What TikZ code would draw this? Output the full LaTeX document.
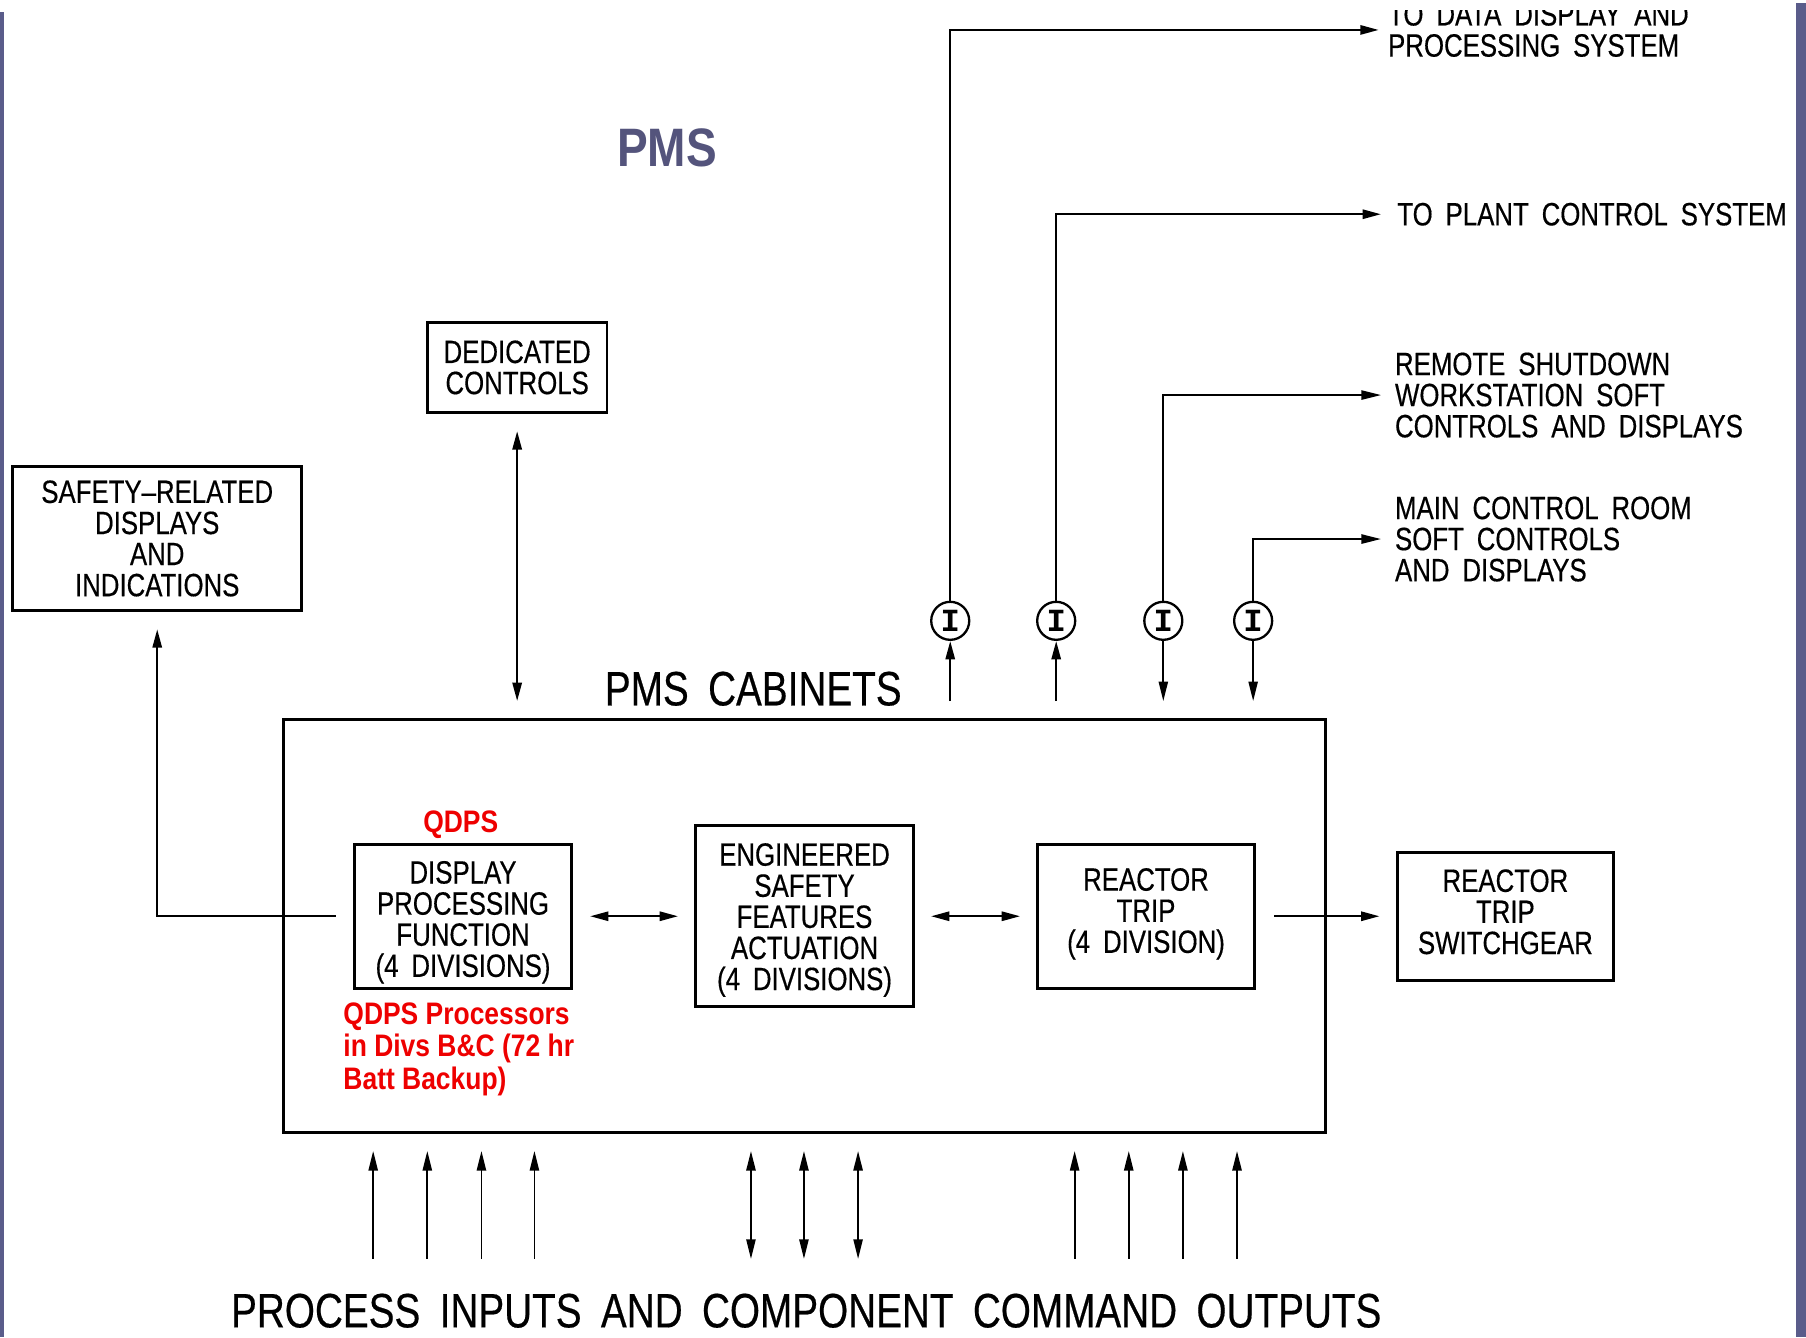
\documentclass[tikz,border=0pt]{standalone}
\usepackage{fontspec}
\setmainfont{Liberation Sans}
\newfontfamily\cadfont[FakeStretch=0.8,WordSpace=1.8,FakeBold=0.4]{Liberation Sans}
\newfontfamily\qdpsfont[FakeStretch=0.85]{Liberation Sans}
\newfontfamily\ringfont{Liberation Mono}
\usepackage{tikz}
\usetikzlibrary{arrows.meta}
\definecolor{pmsblue}{RGB}{84,84,124}
\definecolor{barblue}{RGB}{90,92,138}
\definecolor{qdpsred}{RGB}{238,0,0}

\begin{document}
\begin{tikzpicture}[x=1pt, y=-1pt,
  box/.style={draw, line width=2.6pt, align=center, inner sep=0pt, font=\cadfont\fontsize{28}{27}\selectfont},
  lbl/.style={align=left, inner sep=0pt, anchor=west, font=\cadfont\fontsize{28}{27}\selectfont},
  big/.style={inner sep=0pt, font=\cadfont\fontsize{42}{42}\selectfont},
  qdps/.style={inner sep=0pt, text=qdpsred, font=\qdpsfont\bfseries\fontsize{27}{28}\selectfont},
  ring/.style={draw, circle, line width=2pt, minimum size=33pt, inner sep=0pt, font=\ringfont\bfseries\fontsize{28}{28}\selectfont},
  arr/.style={line width=2pt, -{Triangle[length=16pt,width=8pt]}},
  dbl/.style={line width=2pt, {Triangle[length=16pt,width=8pt]}-{Triangle[length=16pt,width=8pt]}},
  thin arr/.style={line width=1.6pt, -{Triangle[length=17pt,width=8pt]}},
  thin dbl/.style={line width=1.6pt, {Triangle[length=17pt,width=8pt]}-{Triangle[length=17pt,width=8pt]}}]
  \fill[white] (0,0) rectangle (1568,1161);
  \useasboundingbox (0,0) rectangle (1568,1161);

  \node[font=\qdpsfont\bfseries\fontsize{47}{47}\selectfont, text=pmsblue, inner sep=0pt] (T) at (579,128) {PMS};

  \node[box, minimum width=251pt, minimum height=125pt] (SRD) at (136.5,467.5) {SAFETY–RELATED\\DISPLAYS\\AND\\INDICATIONS};
  \node[box, minimum width=156pt, minimum height=78pt] (DC) at (449,319) {DEDICATED\\CONTROLS};
  \node[draw, line width=2.6pt, minimum width=905pt, minimum height=358pt] (PMS) at (698.5,804) {};
  \node[big] (PC) at (654,598) {PMS CABINETS};
  \node[box, minimum width=188pt, minimum height=125pt] (DPF) at (402,795.5) {\rule{0pt}{30pt}DISPLAY\\PROCESSING\\FUNCTION\\(4 DIVISIONS)};
  \node[box, minimum width=189pt, minimum height=157pt] (ESF) at (698.5,795.5) {\rule{0pt}{26pt}ENGINEERED\\SAFETY\\FEATURES\\ACTUATION\\(4 DIVISIONS)};
  \node[box, minimum width=188pt, minimum height=125pt] (RT) at (995,795.5) {REACTOR\\TRIP\\(4 DIVISION)\rule[-10pt]{0pt}{10pt}};
  \node[box, minimum width=188pt, minimum height=111pt] (SW) at (1307,795.5) {REACTOR\\TRIP\\SWITCHGEAR\rule[-8pt]{0pt}{8pt}};
  \node[qdps] (Q) at (400,716) {QDPS};
  \node[qdps, align=left, anchor=west] (QN) at (298,911) {QDPS Processors\\in Divs B\&C (72 hr\\Batt Backup)};

  \node[ring] (I1) at (825,539) {I};
  \node[ring] (I2) at (917,539) {I};
  \node[ring] (I3) at (1010,539) {I};
  \node[ring] (I4) at (1088,539) {I};
  \node[lbl] (DDP) at (1205,26) {TO DATA DISPLAY AND\\PROCESSING SYSTEM};
  \node[lbl] (PCS) at (1213,186) {TO PLANT CONTROL SYSTEM};
  \node[lbl] (RSW) at (1211,343) {REMOTE SHUTDOWN\\WORKSTATION SOFT\\CONTROLS AND DISPLAYS};
  \node[lbl] (MCR) at (1211,468) {MAIN CONTROL ROOM\\SOFT CONTROLS\\AND DISPLAYS};
  \node[big] (PIO) at (700,1138) {PROCESS INPUTS AND COMPONENT COMMAND OUTPUTS};

  \fill[white] (1190,0) rectangle (1558,9);
  \fill[barblue] (0,10) rectangle (3.5,1161);
  \fill[barblue] (1559,3) rectangle (1568,1161);

  \draw[arr, shorten <=15pt, shorten >=15pt] (DPF.west) -| (SRD.south);
  \draw[dbl, shorten <=15pt, shorten >=15pt] (DC.south) -- (DC.south |- PMS.north);
  \draw[dbl, shorten <=15pt, shorten >=14pt] (DPF) -- (ESF);
  \draw[dbl, shorten <=14pt, shorten >=14pt] (ESF) -- (RT);
  \draw[arr, shorten <=16pt, shorten >=14pt] (RT) -- (SW);

  \draw[arr, shorten >=8pt] (I1) |- (DDP);
  \draw[arr, shorten >=14pt] (I2) |- (PCS);
  \draw[thin arr, shorten >=12pt] (I3) |- (RSW);
  \draw[thin arr, shorten >=12pt] (I4) |- (MCR);
  \draw[arr, shorten <=15pt] (I1 |- PMS.north) -- (I1);
  \draw[arr, shorten <=15pt] (I2 |- PMS.north) -- (I2);
  \draw[thin arr, shorten >=15pt] (I3) -- (I3 |- PMS.north);
  \draw[thin arr, shorten >=15pt] (I4) -- (I4 |- PMS.north);

  \foreach \x in {324,371,418,464,933,980,1027,1074} {
    \coordinate (B\x) at (\x,1093);
    \draw[thin arr, shorten >=15pt] (B\x) -- (B\x |- PMS.south);
  }
  \foreach \x in {652,698,745} {
    \coordinate (B\x) at (\x,1093);
    \draw[thin dbl, shorten >=15pt] (B\x) -- (B\x |- PMS.south);
  }
\end{tikzpicture}
\end{document}
